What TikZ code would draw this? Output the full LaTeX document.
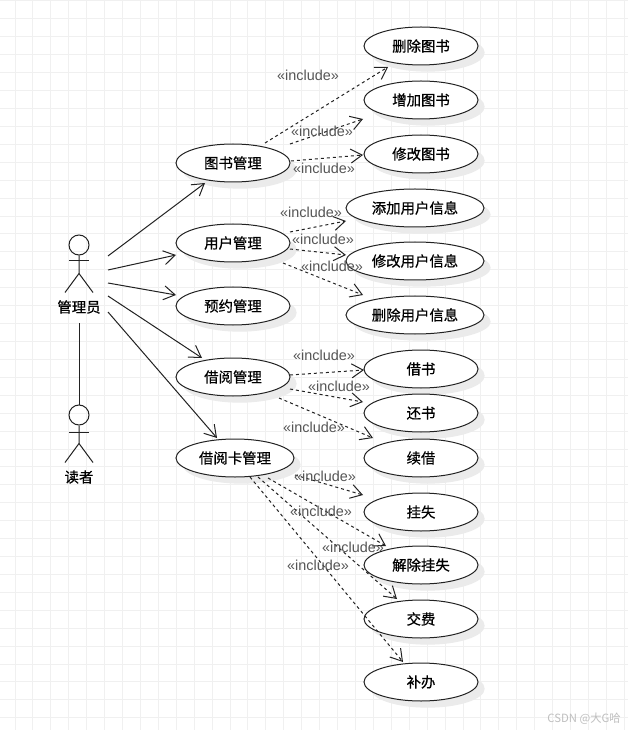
\documentclass[tikz,border=0pt]{standalone}
\usepackage{fontspec}
\setmainfont{Liberation Sans}
\newfontfamily\cjk{Noto Sans CJK SC}
\newfontfamily\cjkheavy[FakeBold=0.6]{Noto Sans CJK SC}
\usetikzlibrary{arrows.meta,shapes.geometric,shadows}
\definecolor{gridgray}{HTML}{F0F0F0}
\definecolor{inkgray}{HTML}{222222}
\definecolor{labelgray}{HTML}{555555}
\tikzset{
  usecase/.style={ellipse,draw=inkgray,fill=white,line width=0.75pt,inner sep=0pt,
    minimum width=85.5pt,minimum height=28.5pt,font=\cjkheavy\fontsize{10.8}{13}\selectfont,
    drop shadow={shadow xshift=5pt,shadow yshift=-5pt,fill=black!8,opacity=1}},
  usecasewide/.style={usecase,minimum width=103.5pt},
  actorhead/.style={circle,draw=inkgray,line width=0.75pt,inner sep=0pt,minimum size=15pt},
  actorlabel/.style={inner sep=0pt,minimum height=24pt,font=\cjkheavy\fontsize{10.8}{13}\selectfont},
  actorline/.style={draw=inkgray,line width=0.75pt},
  assoc/.style={draw=inkgray,line width=0.75pt,-{Straight Barb[length=8.5pt,width=10.5pt]}},
  incl/.style={assoc,dash pattern=on 2.25pt off 2.25pt},
  incllabel/.style={inner sep=0pt,text=labelgray,font=\fontsize{10.8}{13}\selectfont}
}
\begin{document}
\begin{tikzpicture}[x=0.75pt,y=-0.75pt]
      \useasboundingbox (0,0) rectangle (628,730);
      \fill[white] (0,0) rectangle (628,730);
      \draw[gridgray,line width=0.75pt,shift={(15,1)},step=13.44pt] (-15,-1) grid (613,729);
      % actors
      \node[actorhead] (admhead) at (79,245) {};
      \draw[actorline] (admhead.south) -- ++(0,18) coordinate (admhip) -- ++(-14,19);
      \draw[actorline] (admhip) -- ++(14,19);
      \draw[actorline] (69,261) -- (89,261);
      \node[actorlabel] (admlabel) at (79,307) {管理员};
      \node[actorhead] (rdrhead) at (79,415) {};
      \draw[actorline] (rdrhead.south) -- ++(0,18) coordinate (rdrhip) -- ++(-14,19);
      \draw[actorline] (rdrhip) -- ++(14,19);
      \draw[actorline] (69,432) -- (89,432);
      \node[actorlabel] (rdrlabel) at (79,477) {读者};
      \draw[actorline] (admlabel.south) -- (rdrhead.north);
      % use cases
      \node[usecase] (tsgl) at (233,163) {图书管理};
      \node[usecase] (yhgl) at (233,243) {用户管理};
      \node[usecase] (yygl) at (233,306) {预约管理};
      \node[usecase] (jygl) at (233,377) {借阅管理};
      \node[usecase,minimum width=88.5pt] (jkgl) at (235,458) {借阅卡管理};
      \node[usecase] (sctu) at (421,46) {删除图书};
      \node[usecase] (zjtu) at (421,100) {增加图书};
      \node[usecase] (xgtu) at (421,154) {修改图书};
      \node[usecasewide] (tjyh) at (415,208) {添加用户信息};
      \node[usecasewide] (xgyh) at (415,261) {修改用户信息};
      \node[usecasewide] (scyh) at (415,315) {删除用户信息};
      \node[usecase] (jies) at (421,369) {借书};
      \node[usecase] (hais) at (421,413) {还书};
      \node[usecase] (xuji) at (421,458) {续借};
      \node[usecase] (guas) at (421,512) {挂失};
      \node[usecase] (jcgs) at (421,565) {解除挂失};
      \node[usecase] (jiao) at (421,619) {交费};
      \node[usecase] (buba) at (421,682) {补办};
      % actor to use case
      \draw[assoc] ([shift={(29,11)}]admhead.center) -- ([shift={(-28,20)}]tsgl.center);
      \draw[assoc] ([shift={(29,25)}]admhead.center) -- ([shift={(-57,12)}]yhgl.center);
      \draw[assoc] ([shift={(29,38)}]admhead.center) -- ([shift={(-57,-11)}]yygl.center);
      \draw[assoc] ([shift={(29,51)}]admhead.center) -- ([shift={(-31,-19)}]jygl.center);
      \draw[assoc] ([shift={(29,67)}]admhead.center) -- ([shift={(-18,-20)}]jkgl.center);
      % include edges
      \draw[incl] ([shift={(32,-20)}]tsgl.center) -- ([shift={(-33,21)}]sctu.center);
      \draw[incl] ([shift={(57,-19)}]tsgl.center) -- ([shift={(-58,19)}]zjtu.center);
      \draw[incl] ([shift={(58,-2)}]tsgl.center) -- ([shift={(-58,1)}]xgtu.center);
      \draw[incl] ([shift={(57,-11)}]yhgl.center) -- ([shift={(-69,13)}]tjyh.center);
      \draw[incl] ([shift={(57,6)}]yhgl.center) -- ([shift={(-69,-6)}]xgyh.center);
      \draw[incl] ([shift={(50,20)}]yhgl.center) -- ([shift={(-52,-20)}]scyh.center);
      \draw[incl] ([shift={(57,-2)}]jygl.center) -- ([shift={(-57,1)}]jies.center);
      \draw[incl] ([shift={(57,12)}]jygl.center) -- ([shift={(-58,-11)}]hais.center);
      \draw[incl] ([shift={(46,21)}]jygl.center) -- ([shift={(-48,-20)}]xuji.center);
      \draw[incl] ([shift={(60,17)}]jkgl.center) -- ([shift={(-58,-17)}]guas.center);
      \draw[incl] ([shift={(33,20)}]jkgl.center) -- ([shift={(-35,-19)}]jcgs.center);
      \draw[incl] ([shift={(23,19)}]jkgl.center) -- ([shift={(-24,-20)}]jiao.center);
      \draw[incl] ([shift={(15,19)}]jkgl.center) -- ([shift={(-18,-20)}]buba.center);
      % labels
      \node[incllabel] (lbla) at (308,75) {«include»};
      \node[incllabel] (lblb) at (322,131) {«include»};
      \node[incllabel] (lblc) at (324,168) {«include»};
      \node[incllabel] (lbld) at (311,212) {«include»};
      \node[incllabel] (lble) at (323,239) {«include»};
      \node[incllabel] (lblf) at (332,266) {«include»};
      \node[incllabel] (lblg) at (324,355) {«include»};
      \node[incllabel] (lblh) at (339,386) {«include»};
      \node[incllabel] (lbli) at (314,427) {«include»};
      \node[incllabel] (lblj) at (325,476) {«include»};
      \node[incllabel] (lblk) at (321,511) {«include»};
      \node[incllabel] (lbll) at (353,547) {«include»};
      \node[incllabel] (lblm) at (318,565) {«include»};
      \node[anchor=east,inner sep=0pt,text=black!25,font=\cjk\fontsize{8.5}{10}\selectfont] (mark) at (621,719) {CSDN @大G哈};
    \end{tikzpicture}
\end{document}
